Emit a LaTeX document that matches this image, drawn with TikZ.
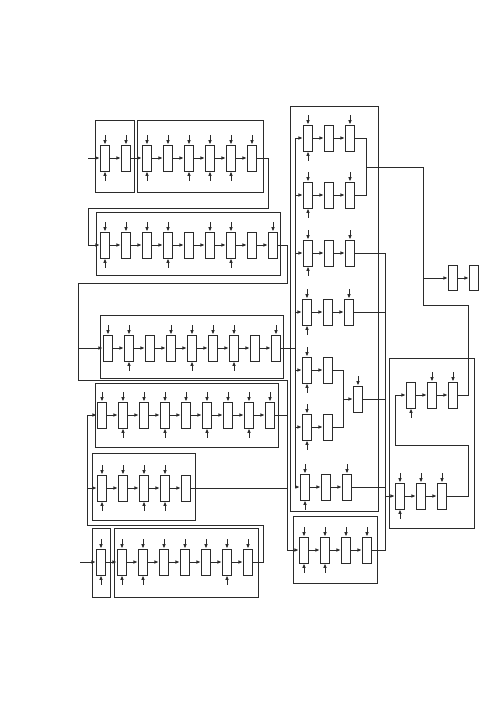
\documentclass[tikz,border=0pt]{standalone}
\usepackage{tikz}
\usetikzlibrary{arrows.meta,positioning}
\definecolor{Ink}{HTML}{2B2B2B}

\begin{document}
\begin{tikzpicture}[x=0.5pt,y=-0.5pt,font=\footnotesize,>={Latex[length=2.2pt,width=1.8pt]},
    node distance=5.3pt,line width=0.45pt,draw=Ink,
    blk/.style={draw=Ink,fill=white,minimum width=4.75pt,minimum height=13pt,inner sep=0pt},
    frm/.style={draw=Ink,line width=0.4pt},
    wire/.style={draw=Ink}]
  \useasboundingbox (0,0) rectangle (500,707);

  % chains of blocks (left half rows, right column rows)
  \foreach \r/\x/\y/\n in {a/105/158/8, b/105/245/9, c/108/348/9, d/102/415/9, e/102/488/5,
                           f/101/562/8, p/308/138/3, q/308/195/3, s/308/253/3, t/307/312/3,
                           u/307/370/2, v/307/427/2, w/305/487/3, h/304/550/4,
                           hi/411/395/3, lo/400/496/3}{
    \node[blk] (\r1) at (\x,\y) {};
    \foreach \i [remember=\i as \j (initially 1)] in {2,...,\n}{
      \node[blk,right=of \r\j] (\r\i) {};
      \draw[->] (\r\j) -- (\r\i);
    }
  }
  \node[blk] (m) at (358,399) {};
  \node[blk,minimum height=12.5pt] (k1) at (453,278) {};
  \node[blk,minimum height=12.5pt,right=of k1] (k2) {};

  % frames
  \draw[frm] (95,120) rectangle (134,192);
  \draw[frm] (137,120) rectangle (263,192);
  \draw[frm] (96,212) rectangle (280,275);
  \draw[frm] (100,315) rectangle (283,378);
  \draw[frm] (95,383) rectangle (278,447);
  \draw[frm] (92,453) rectangle (195,520);
  \draw[frm] (92,528) rectangle (110,597);
  \draw[frm] (114,528) rectangle (258,597);
  \draw[frm] (290,106) rectangle (378,511);
  \draw[frm] (293,516) rectangle (377,583);
  \draw[frm] (389,358) rectangle (474,528);

  % side inputs
  \foreach \b in {a1,a2,a3,a4,a5,a6,a7,a8, b1,b2,b3,b4,b6,b7,b9, c1,c2,c4,c5,c6,c7,c9,
                  d1,d2,d3,d4,d5,d6,d7,d8,d9, e1,e2,e3,e4, f1,f2,f3,f4,f5,f6,f7,f8,
                  p1,p3,q1,q3,s1,s3,t1,t3,u1,v1,m,w1,w3,h1,h2,h3,h4, hi2,hi3,lo1,lo2,lo3}
    \draw[<-] (\b.north) -- ++(0,-10);
  \foreach \b in {a1,a3,a5,a6,a7, b1,b4,b7, c2,c5,c7, d2,d4,d6,d8, e1,e3,e4, f1,f2,f3,f7,
                  p1,q1,s1,t1,u1,v1,w1,h1,h2, hi1,lo1}
    \draw[<-] (\b.south) -- ++(0,10);

  % links between rows
  \coordinate (ain) at (88,158);
  \coordinate (fin) at (80,562);
  \coordinate (cin) at (78,348);
  \coordinate (ein) at (87,488);
  \coordinate (lbus) at (295,138);
  \coordinate (rbus) at (385,253);
  \draw[->] (ain) -- (a1);
  \draw[->] (fin) -- (f1);
  \draw[->] (a8.east) -| (268,208) -| (88,245) -- (b1.west);
  \draw[->] (b9.east) -| (287,283) -| (78,380) -| (287,550) -- (h1.west);
  \draw[->] (cin) -- (c1);
  \draw (c9.east) -- (c9.east -| lbus);
  \draw (d9.east) -- (287,415);
  \draw (e5.east) -- (287,488);
  \draw[->] (f8.east) -| (263,525) -| (87,415) -- (d1.west);
  \draw[->] (ein) -- (e1);

  % right column
  \draw (295,138) -- (295,487);
  \foreach \b in {p1,q1,s1,t1,u1,v1,w1}
    \draw[->] (\b.west -| lbus) -- (\b.west);
  \draw (p3.east) -| (366,195) -- (q3.east);
  \draw (366,167) -| (423,305) -| (468,395) -- (hi3.east);
  \draw[->] (423,278) -- (k1);
  \draw[->] (k1) -- (k2);
  \draw (s3.east) -| (385,550) -- (h4.east);
  \draw (t3.east) -- (t3.east -| rbus);
  \draw (u2.east) -| (343,427) -- (v2.east);
  \draw[->] (343,399) -- (m);
  \draw (m.east) -- (m.east -| rbus);
  \draw (w3.east) -- (w3.east -| rbus);
  \draw[->] (385,496) -- (lo1.west);
  \draw[->] (lo3.east) -| (468,445) -| (395,395) -- (hi1.west);
\end{tikzpicture}
\end{document}
